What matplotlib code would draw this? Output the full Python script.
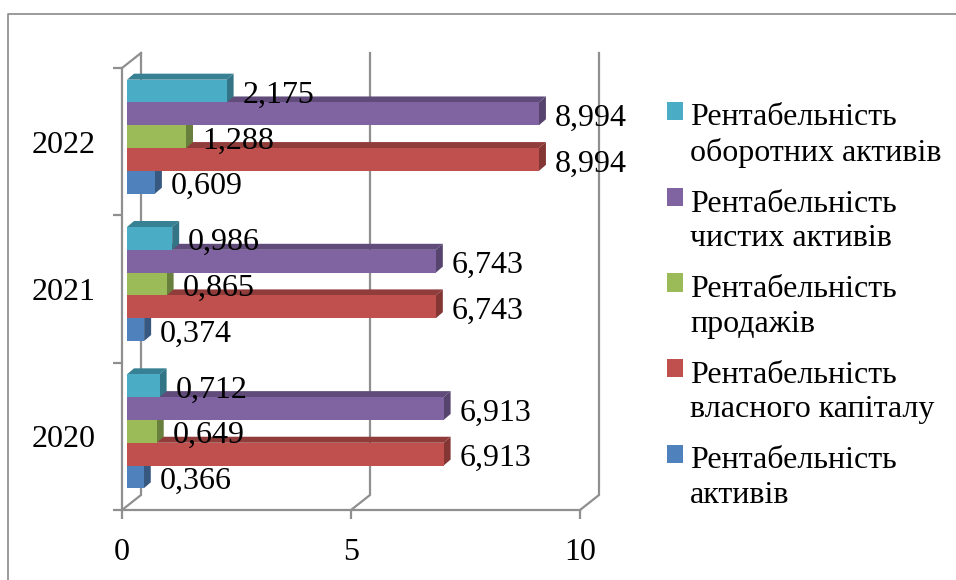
import matplotlib
matplotlib.use('Agg')
import matplotlib.pyplot as plt
import matplotlib.colors as mcolors
from matplotlib.lines import Line2D
from matplotlib.patches import Patch, Polygon, Rectangle
from matplotlib.legend_handler import HandlerPatch
import numpy as np

plt.rcParams['font.family'] = ['Liberation Serif', 'DejaVu Serif']

years = ['2020', '2021', '2022']
series_names = ['Рентабельність\nактивів', 'Рентабельність\nвласного капіталу', 'Рентабельність\nпродажів',
                'Рентабельність\nчистих активів', 'Рентабельність\nоборотних активів']
roa = [0.366, 0.374, 0.609]
roe = [6.913, 6.743, 8.994]
ros = [0.649, 0.865, 1.288]
rona = [6.913, 6.743, 8.994]
roca = [0.712, 0.986, 2.175]
series_values = [roa, roe, ros, rona, roca]
colors = ['#4F81BD', '#C0504D', '#9BBB59', '#8064A2', '#4BACC6']
x_ticks = [0, 5, 10]

W, H = 956, 580
GRAY = '#8f8f8f'
FS = 23

fig = plt.figure(figsize=(W / 100, H / 100), dpi=100)
ax = fig.add_axes([122 / W, 1 - 510 / H, 458 / W, 442 / H])
ax.set_xlim(0, 10)
ax.set_ylim(-0.5, 2.5)

# pixel -> data units
px = 10 / 458
py = 3 / 442
wall_dx, wall_dy = 19 * px, 15 * py
bar_dx, bar_dy = 7 * px, 6 * py
bar_x0 = 5 * px
bar_h = 22.8 * py
group_shift = 5 * py


def shade(c, k):
    return tuple(v * k for v in mcolors.to_rgb(c))


# back wall: only the verticals and the floor diagonals, like the office 3d chart
for t in x_ticks:
    xs = [t, t + wall_dx, t + wall_dx]
    ys = [-0.5, -0.5 + wall_dy, 2.5 + wall_dy]
    ax.plot(xs, ys, color=GRAY, lw=1.6, clip_on=False, zorder=1, solid_joinstyle='miter')
ax.plot([0, wall_dx], [2.5, 2.5 + wall_dy], color=GRAY, lw=1.6, clip_on=False, zorder=1)

z = 2
for i, year in enumerate(years):
    for j, (vals, c) in enumerate(zip(series_values, colors)):
        v = vals[i]
        y0 = i + group_shift + (j - 2.5) * bar_h
        y1 = y0 + bar_h
        x1 = bar_x0 + v
        top = [(bar_x0, y1), (x1, y1), (x1 + bar_dx, y1 + bar_dy), (bar_x0 + bar_dx, y1 + bar_dy)]
        side = [(x1, y0), (x1, y1), (x1 + bar_dx, y1 + bar_dy), (x1 + bar_dx, y0 + bar_dy)]
        ax.add_patch(Polygon(top, closed=True, fc=shade(c, 0.75), ec='none', zorder=z, clip_on=False))
        ax.add_patch(Polygon(side, closed=True, fc=shade(c, 0.68), ec='none', zorder=z, clip_on=False))
        ax.add_patch(Rectangle((bar_x0, y0), v, bar_h, fc=c, ec='none', zorder=z, clip_on=False))
        z += 1

# value labels go over everything
for i in range(len(years)):
    for j, vals in enumerate(series_values):
        v = vals[i]
        y0 = i + group_shift + (j - 2.5) * bar_h
        ax.annotate(f'{v:.3f}'.replace('.', ','), (bar_x0 + v, y0), xytext=(16 * 0.72, -0.5 * 0.72),
                    textcoords='offset points', ha='left', va='baseline', fontsize=FS,
                    color='black', zorder=100, annotation_clip=False)

for s in ['top', 'right']:
    ax.spines[s].set_visible(False)
for s in ['left', 'bottom']:
    ax.spines[s].set_color(GRAY)
    ax.spines[s].set_linewidth(1.6)

ax.set_xticks(x_ticks)
ax.tick_params(axis='x', length=6.5, width=1.6, color=GRAY, labelsize=FS, pad=14)
ax.set_yticks([-0.5, 0.5, 1.5, 2.5])
ax.set_yticklabels([])
ax.tick_params(axis='y', which='major', length=6.5, width=1.6, color=GRAY)
ax.set_yticks([0, 1, 2], minor=True)
ax.set_yticklabels(years, minor=True)
ax.tick_params(axis='y', which='minor', length=0, labelsize=FS, pad=19)


def first_line_square(legend, orig_handle, xdescent, ydescent, width, height, fontsize):
    return Rectangle((0, 19), width, height)


handles = [Patch(facecolor=c, edgecolor='none') for c in colors[::-1]]
leg = ax.legend(handles, series_names[::-1], loc='upper left', bbox_to_anchor=(667 / W, 1 - 103 / H),
                bbox_transform=fig.transFigure, frameon=False, fontsize=FS, borderpad=0, borderaxespad=0,
                handlelength=0.5, handleheight=0.5, handletextpad=0.22, labelspacing=0.69,
                handler_map={Patch: HandlerPatch(patch_func=first_line_square)})
for t in leg.get_texts():
    t.set_linespacing(1.25)

# outer frame of the picture, cut off on the right and bottom
fig.add_artist(Line2D([8 / W, 8 / W, 1], [0, 1 - 14 / H, 1 - 14 / H], color='#8a8a8a', lw=1.2))

fig.savefig('out.png', dpi=100)
